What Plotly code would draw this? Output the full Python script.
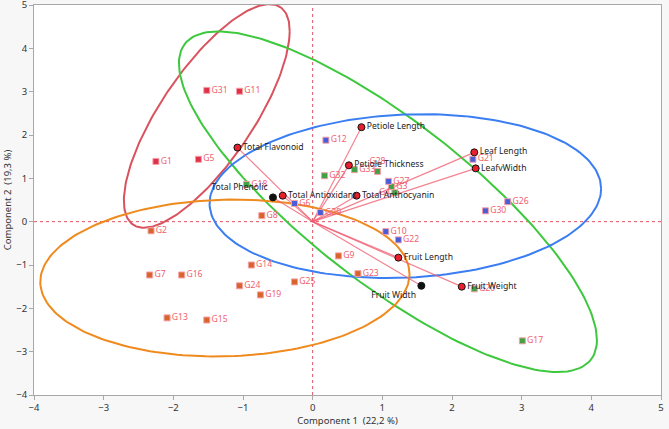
import numpy as np
import plotly.graph_objects as go

# PCA scores for each genotype
genotypes = ["G1", "G2", "G3", "G4", "G5", "G6", "G7", "G8", "G9", "G10", "G11",
             "G12", "G13", "G14", "G15", "G16", "G17", "G18", "G19", "G20", "G21",
             "G22", "G23", "G24", "G25", "G26", "G27", "G28", "G29", "G30", "G31",
             "G32", "G33"]
pc1 = [-2.25, -2.32, 1.13, 1.18, -1.64, -0.26, -2.34, -0.73, 0.37, 1.05, -1.05,
       0.19, -2.09, -0.88, -1.52, -1.88, 3.01, -0.95, -0.75, 2.32, 2.30,
       1.23, 0.65, -1.05, -0.26, 2.80, 1.09, 0.93, 0.11, 2.48, -1.52,
       0.17, 0.60]
pc2 = [1.39, -0.21, 0.81, 0.67, 1.44, 0.42, -1.23, 0.14, -0.79, -0.23, 3.01,
       1.88, -2.22, -1.00, -2.27, -1.23, -2.75, 0.86, -1.69, -1.55, 1.44,
       -0.42, -1.20, -1.48, -1.39, 0.46, 0.93, 1.16, 0.21, 0.25, 3.03,
       1.06, 1.20]
cluster = [1, 4, 2, 2, 1, 3, 4, 4, 4, 3, 1,
           3, 4, 4, 4, 4, 2, 2, 4, 2, 3,
           3, 4, 4, 4, 3, 3, 2, 3, 3, 1,
           2, 2]

# variable loadings (biplot rays)
variables = ["Petiole Length", "Total Flavonoid", "Petiole Thickness", "Total Phenolic",
             "Total Antioxidant", "Total Anthocyanin", "Leaf Length", "LeafvWidth",
             "Fruit Length", "Fruit Width", "Fruit Weight"]
load1 = [0.70, -1.08, 0.52, -0.57, -0.43, 0.63, 2.32, 2.34, 1.23, 1.56, 2.14]
load2 = [2.18, 1.71, 1.30, 0.56, 0.60, 0.60, 1.60, 1.23, -0.83, -1.48, -1.50]

# density ellipse per cluster: centre, spread and correlation
ell_cluster = [1, 2, 3, 4]
ell_cx = [-1.52, 1.08, 1.33, -1.26]
ell_cy = [2.44, 0.46, 0.59, -1.30]
ell_sx = [1.19, 3.00, 2.81, 2.65]
ell_sy = [2.58, 3.93, 1.89, 1.81]
ell_r = [0.758, -0.812, 0.09, 0.05]

ell_colors = {1: "#d9535f", 2: "#3ec83e", 3: "#3a7ef2", 4: "#ef8a1e"}
pt_colors = {1: "#e0304a", 2: "#44a044", 3: "#4a5cd6", 4: "#d8642c"}

fig = go.Figure()

t = np.linspace(0, 2 * np.pi, 200)
for k, cx, cy, sx, sy, r in zip(ell_cluster, ell_cx, ell_cy, ell_sx, ell_sy, ell_r):
    ex = cx + sx * np.cos(t)
    ey = cy + sy * (r * np.cos(t) + np.sqrt(1 - r * r) * np.sin(t))
    fig.add_trace(go.Scatter(x=ex, y=ey, mode="lines",
                             line=dict(color=ell_colors[k], width=2),
                             hoverinfo="skip", showlegend=False))

# rays from origin
for v, a, b in zip(variables, load1, load2):
    fig.add_trace(go.Scatter(x=[0, a], y=[0, b], mode="lines",
                             line=dict(color="rgba(240,90,110,0.75)", width=1.2),
                             hoverinfo="skip", showlegend=False))

# genotype markers
pos = ["middle right"] * len(genotypes)
pos[genotypes.index("G28")] = "top center"
pos[genotypes.index("G4")] = "middle left"
fig.add_trace(go.Scatter(
    x=pc1, y=pc2, mode="markers+text", text=genotypes, textposition=pos,
    marker=dict(symbol="square", size=6, color=[pt_colors[c] for c in cluster],
                line=dict(color="#f4a0a8", width=1)),
    textfont=dict(family="Noto Sans", size=8.6, color="#f0606e"),
    showlegend=False))

# variable points
vpos = ["middle right"] * len(variables)
vpos[variables.index("Total Phenolic")] = "top left"
vpos[variables.index("Fruit Width")] = "bottom left"
vcol = ["#e8202e"] * len(variables)
vcol[variables.index("Total Phenolic")] = "#111111"
vcol[variables.index("Fruit Width")] = "#111111"
fig.add_trace(go.Scatter(
    x=load1, y=load2, mode="markers+text", text=variables, textposition=vpos,
    marker=dict(symbol="circle", size=7, color=vcol, line=dict(color="#111111", width=1)),
    textfont=dict(family="Noto Sans", size=8.6, color="#222222"),
    showlegend=False))

# reference lines at zero
fig.add_shape(type="line", x0=0, x1=0, y0=-4, y1=5, xref="x", yref="y",
              line=dict(color="#e05060", width=1, dash="dot"), layer="below")
fig.add_shape(type="line", x0=-4, x1=5, y0=0, y1=0, xref="x", yref="y",
              line=dict(color="#e05060", width=1, dash="dot"), layer="below")

axis_style = dict(showgrid=False, zeroline=False, showline=True, mirror=True,
                  linecolor="#a8a8a8", linewidth=1, ticks="outside", ticklen=4,
                  tickcolor="#a8a8a8", dtick=1, automargin=False,
                  ticklabeloverflow="allow",
                  tickfont=dict(family="Noto Sans", size=9.5, color="#333333"))

fig.update_layout(
    width=669, height=429,
    margin=dict(l=34, r=8, t=5, b=34),
    paper_bgcolor="#f7f7f7", plot_bgcolor="white",
    xaxis=dict(range=[-4, 5], title=dict(text="Component 1  (22,2 %)", standoff=2,
               font=dict(family="Noto Sans", size=9.5, color="#333333")), **axis_style),
    yaxis=dict(range=[-4, 5], title=dict(text="Component 2  (19,3 %)", standoff=2,
               font=dict(family="Noto Sans", size=9.5, color="#333333")), **axis_style),
)

# page body has a default margin; drop it so the figure fills the window
fig.write_html("out.html", config={"displayModeBar": False},
               post_script="document.body.style.margin = '0';")
